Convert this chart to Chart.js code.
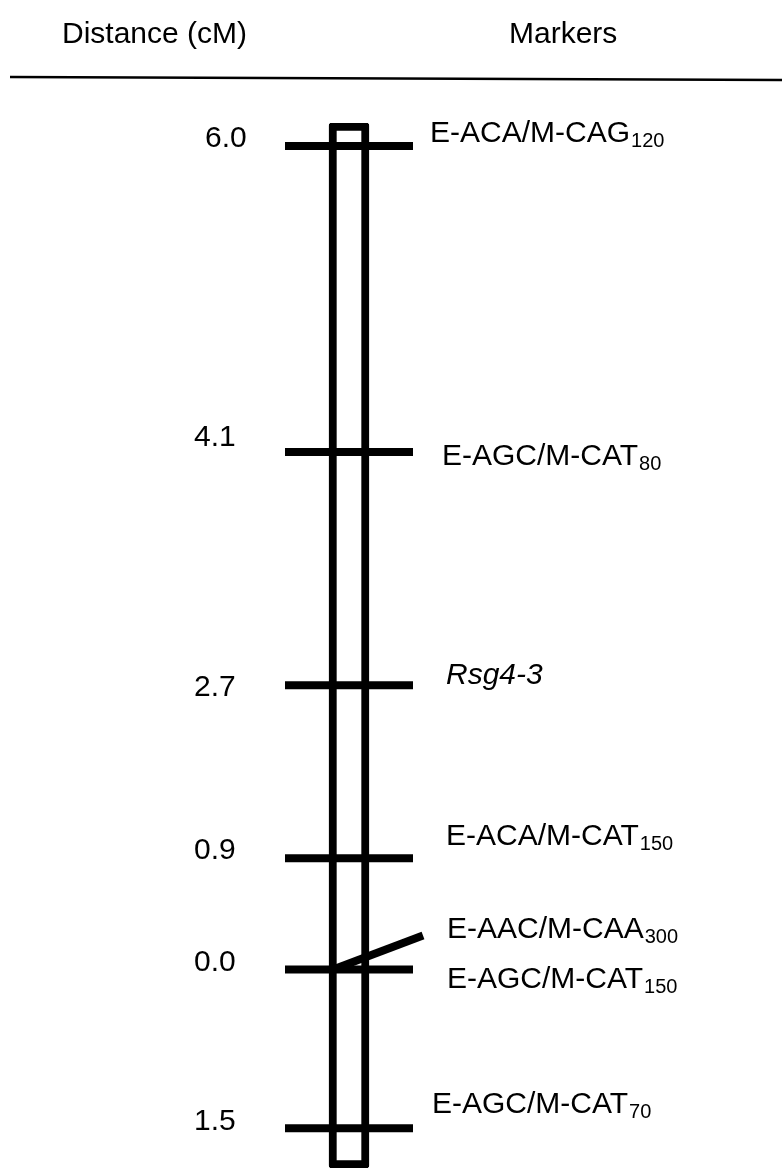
<!DOCTYPE html>
<html>
<head>
<meta charset="utf-8">
<script src="https://cdn.jsdelivr.net/npm/chart.js@4/dist/chart.umd.min.js"></script>
<style>
  html, body { margin: 0; padding: 0; background: #ffffff; }
  #map { display: block; }
</style>
</head>
<body>
<canvas id="map" width="782" height="1170"></canvas>
<script>
// Linkage group around Rsg4-3: marker order along the chromosome (top to bottom)
const markerNames = ['E-ACA/M-CAG', 'E-AGC/M-CAT', 'Rsg4-3', 'E-ACA/M-CAT', 'E-AAC/M-CAA', 'E-AGC/M-CAT', 'E-AGC/M-CAT'];
const fragmentSizes = ['120', '80', '', '150', '300', '150', '70'];
// drawn position of each marker along the bar (map units, top = 0)
const markerPositions = [0, 6.0, 10.57, 13.96, 16.14, 16.14, 19.25];
// distance labels printed beside the bar (cM)
const distanceLabels = ['6.0', '4.1', '2.7', '0.9', '', '0.0', '1.5'];
// extent of the chromosome bar
const chromosomeSpan = [-0.45, 20.03];

const FONT = '"Liberation Sans", Arial, Helvetica, sans-serif';
const SLANTED = 4;           // marker joined to the bar by a slanted tick
const ITALIC = 2;            // gene name set in italics
// per-label nudges in px: [dx from tick end, dy of baseline from tick]
const nameNudge = [[17, -4], [29, 13], [33, -1], [33, -13], [34, -32], [34, 18], [19, -15]];
const distNudge = [[205, 1], [194, -6], [194, 11], [194, 1], [0, 0], [194, 1], [194, 2]];

const textPlugin = {
  id: 'mapText',
  afterDatasetsDraw(chart) {
    const { ctx, scales: { x, y } } = chart;
    const cx = x.getPixelForValue(0);
    const tickEnd = cx + 64;
    ctx.save();
    ctx.fillStyle = '#000';
    ctx.strokeStyle = '#000';

    // header
    ctx.font = '30px ' + FONT;
    ctx.textBaseline = 'alphabetic';
    ctx.fillText('Distance (cM)', 62, 43);
    ctx.fillText('Markers', 509, 43);
    ctx.lineWidth = 2.5;
    ctx.beginPath();
    ctx.moveTo(10, 77);
    ctx.lineTo(782, 80);
    ctx.stroke();

    // slanted tick for the co-segregating marker
    const ps = y.getPixelForValue(markerPositions[SLANTED]);
    ctx.lineWidth = 8;
    ctx.lineCap = 'butt';
    ctx.beginPath();
    ctx.moveTo(cx - 16, ps);
    ctx.lineTo(cx + 74, ps - 34);
    ctx.stroke();

    markerPositions.forEach((pos, i) => {
      const py = y.getPixelForValue(pos);
      // marker name with fragment size as subscript
      const [dx, dy] = nameNudge[i];
      const tx = tickEnd + dx;
      const ty = py + dy;
      ctx.font = (i === ITALIC ? 'italic ' : '') + '30px ' + FONT;
      ctx.fillText(markerNames[i], tx, ty);
      if (fragmentSizes[i]) {
        const w = ctx.measureText(markerNames[i]).width;
        ctx.font = '20px ' + FONT;
        ctx.fillText(fragmentSizes[i], tx + w + 1, ty + 5);
      }
      // distance label
      if (distanceLabels[i]) {
        const [lx, ly] = distNudge[i];
        ctx.font = '30px ' + FONT;
        ctx.fillText(distanceLabels[i], lx, py + ly);
      }
    });
    ctx.restore();
  }
};

new Chart(document.getElementById('map'), {
  type: 'bar',
  data: {
    datasets: [
      {
        type: 'scatter',
        order: 1,
        data: markerPositions.map(p => ({ x: 0, y: p })),
        pointStyle: 'line',
        pointRadius: markerPositions.map((p, i) => (i === SLANTED ? 0 : 64)),
        pointBorderWidth: 8,
        borderColor: '#000',
        backgroundColor: '#000'
      },
      {
        type: 'bar',
        order: 2,
        data: [{ x: 0, y: chromosomeSpan }],
        barThickness: 40,
        borderWidth: 8,
        borderRadius: 3,
        borderSkipped: false,
        borderColor: '#000',
        backgroundColor: '#ffffff'
      }
    ]
  },
  options: {
    responsive: false,
    animation: false,
    devicePixelRatio: 1,
    layout: { autoPadding: false, padding: { top: 123, bottom: 2, left: 0, right: 84 } },
    scales: {
      x: { type: 'linear', min: -1, max: 1, display: false },
      y: { type: 'linear', reverse: true, min: chromosomeSpan[0], max: chromosomeSpan[1], display: false }
    },
    plugins: { legend: { display: false }, tooltip: { enabled: false } }
  },
  plugins: [textPlugin]
});
</script>
</body>
</html>
